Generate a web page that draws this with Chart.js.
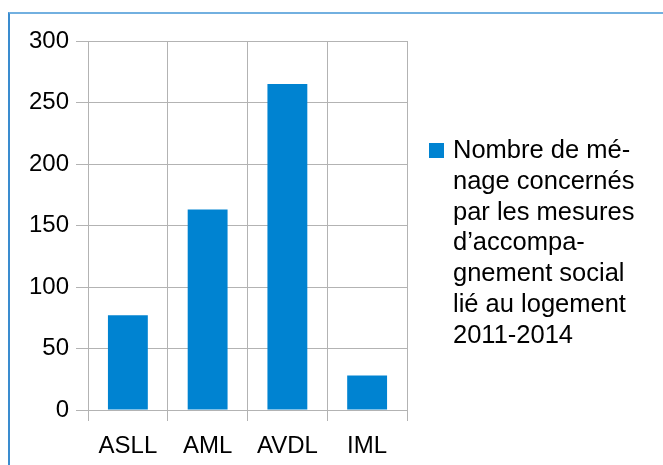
<!DOCTYPE html>
<html>
<head>
<meta charset="utf-8">
<script src="https://cdn.jsdelivr.net/npm/chart.js@4"></script>
<style>
  html, body { margin: 0; padding: 0; background: #fff; }
  #wrap { position: relative; width: 663px; height: 465px; overflow: hidden; }
  #frame {
    position: absolute; left: 8px; top: 12px; width: 700px; height: 500px;
    border-top: 2px solid #72b0e0; border-left: 2px solid #3a8ccf;
  }
  canvas { position: absolute; left: 0; top: 0; }
</style>
</head>
<body>
<div id="wrap">
  <div id="frame"></div>
  <canvas id="chart" width="663" height="465"></canvas>
</div>
<script>
const CATEGORIES = ["ASLL", "AML", "AVDL", "IML"];
const MENAGES = [77, 163, 265, 28];
const Y_MIN = 0;
const Y_MAX = 300;
const Y_STEP = 50;
const LEGEND_LINES = [
  "Nombre de mé-",
  "nage concernés",
  "par les mesures",
  "d’accompa-",
  "gnement social",
  "lié au logement",
  "2011-2014",
];

const BAR_COLOR = "#0083d1";
const GRID_COLOR = "#b3b3b3";
const FONT = "'Liberation Sans', Arial, sans-serif";

Chart.defaults.color = "#000";
Chart.defaults.font.family = FONT;

// legend drawn by hand: the built-in one clips wrapped labels
const sideLegend = {
  id: "sideLegend",
  afterDraw(chart) {
    const { ctx, chartArea } = chart;
    const ds = chart.data.datasets[0];
    const boxX = chartArea.right + 22;
    const textX = boxX + 24;
    const firstBase = 158;
    const lineGap = 30.8;
    ctx.save();
    ctx.fillStyle = ds.backgroundColor;
    ctx.fillRect(boxX, firstBase - 15, 15, 15);
    ctx.fillStyle = "#000";
    ctx.font = `25.5px ${FONT}`;
    ctx.textAlign = "left";
    ctx.textBaseline = "alphabetic";
    LEGEND_LINES.forEach((line, i) => ctx.fillText(line, textX, firstBase + i * lineGap));
    ctx.restore();
  },
};

new Chart(document.getElementById("chart"), {
  type: "bar",
  data: {
    labels: CATEGORIES,
    datasets: [
      {
        label: LEGEND_LINES.join(" "),
        data: MENAGES,
        backgroundColor: BAR_COLOR,
        borderWidth: 0,
        categoryPercentage: 1,
        barPercentage: 0.5,
      },
    ],
  },
  options: {
    responsive: false,
    animation: false,
    devicePixelRatio: 1,
    layout: { padding: { left: 0, top: 41, right: 256, bottom: 0 } },
    scales: {
      x: {
        offset: true,
        grid: { color: GRID_COLOR, tickLength: 11, offset: true },
        border: { color: GRID_COLOR },
        ticks: { font: { size: 24 }, padding: 11, maxRotation: 0 },
        afterFit: (axis) => { axis.height = 55; },
      },
      y: {
        min: Y_MIN,
        max: Y_MAX,
        grid: { color: GRID_COLOR, tickLength: 12 },
        border: { color: GRID_COLOR },
        ticks: { stepSize: Y_STEP, font: { size: 24 }, padding: 7 },
        afterFit: (axis) => { axis.width = 88; },
      },
    },
    plugins: {
      tooltip: { enabled: false },
      legend: { display: false },
    },
  },
  plugins: [sideLegend],
});
</script>
</body>
</html>
